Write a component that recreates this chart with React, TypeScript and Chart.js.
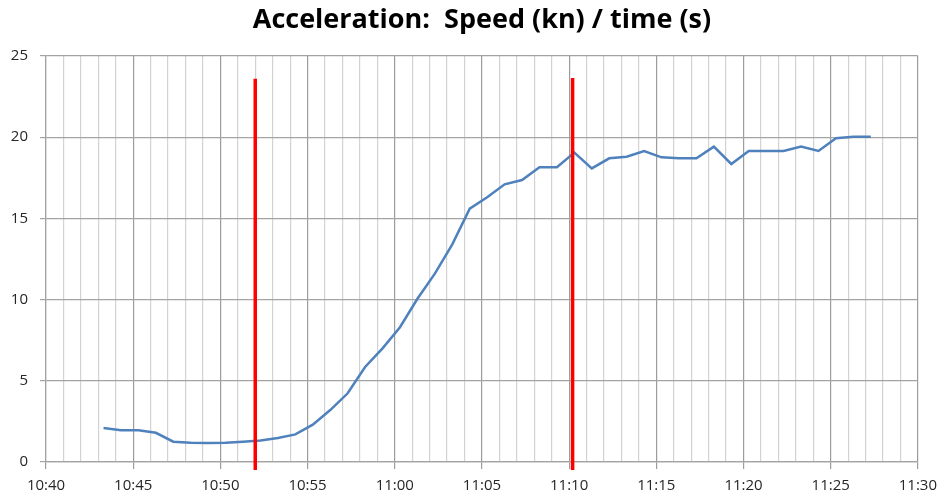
import React, { useEffect, useRef } from "react";
import { Chart, registerables } from "chart.js";

Chart.register(...registerables);

// time in minutes since midnight (10:43.3 -> 643.3)
const timeMinutes = [
  643.3, 644.3, 645.3, 646.3, 647.3, 648.3, 649.3, 650.3, 651.3, 652.3,
  653.3, 654.3, 655.3, 656.3, 657.3, 658.3, 659.3, 660.3, 661.3, 662.3,
  663.3, 664.3, 665.3, 666.3, 667.3, 668.3, 669.3, 670.3, 671.3, 672.3,
  673.3, 674.3, 675.3, 676.3, 677.3, 678.3, 679.3, 680.3, 681.3, 682.3,
  683.3, 684.3, 685.3, 686.3, 687.3,
];
const speedKn = [
  2.1, 1.95, 1.95, 1.8, 1.25, 1.18, 1.17, 1.18, 1.25, 1.33,
  1.48, 1.7, 2.3, 3.2, 4.23, 5.85, 7.0, 8.3, 10.05, 11.6,
  13.4, 15.6, 16.3, 17.1, 17.36, 18.15, 18.15, 19.05, 18.08, 18.7,
  18.8, 19.15, 18.76, 18.7, 18.7, 19.42, 18.35, 19.15, 19.15, 19.15,
  19.42, 19.15, 19.93, 20.03, 20.03,
];
// red marker lines: time, bottom, top
const markerTimes = [652.0, 670.2];
const markerBottom = [-0.5, -0.5];
const markerTop = [23.6, 23.65];

const xMin = 640;
const xMax = 690;
const yTicks = [0, 5, 10, 15, 20, 25];

const fmtTime = (v: number) => {
  const h = Math.floor(v / 60);
  const m = Math.round(v % 60);
  return `${h}:${m < 10 ? "0" + m : m}`;
};

export default function App() {
  const ref = useRef<HTMLCanvasElement | null>(null);
  useEffect(() => {
    if (!ref.current) return;
    const speedData = timeMinutes.map((t, i) => ({ x: t, y: speedKn[i] }));
    const markerSets = markerTimes.map((t, i) => ({
      label: "marker" + i,
      data: [
        { x: t, y: markerBottom[i] },
        { x: t, y: markerTop[i] },
      ],
      borderColor: "#ff0000",
      borderWidth: 3.5,
      pointRadius: 0,
      clip: false as any,
      order: 0,
    }));
    const chart = new Chart(ref.current, {
      type: "line",
      data: {
        datasets: [
          {
            label: "Speed",
            data: speedData,
            borderColor: "#4f81bd",
            borderWidth: 2.5,
            pointRadius: 0,
            tension: 0,
            order: 1,
          },
          ...markerSets,
        ],
      },
      options: {
        animation: false,
        responsive: false,
        layout: { padding: { left: 0, right: 24, top: 0, bottom: 0 } },
        plugins: {
          legend: { display: false },
          tooltip: { enabled: false },
          title: {
            display: true,
            text: "Acceleration:  Speed (kn) / time (s)",
            fullSize: false,
            color: "#000000",
            font: { family: "Open Sans", size: 27, weight: "bold" },
            padding: { top: 4, bottom: 19.6 },
          },
        },
        scales: {
          x: {
            type: "linear",
            min: xMin,
            max: xMax,
            afterFit: (s: any) => {
              s.height = 35;
            },
            afterBuildTicks: (s: any) => {
              const t = [];
              for (let v = xMin; v <= xMax; v++) t.push({ value: v });
              s.ticks = t;
            },
            ticks: {
              autoSkip: false,
              maxRotation: 0,
              padding: 8,
              color: "#262626",
              font: { family: "Open Sans", size: 15 },
              callback: (v: any) => (Number(v) % 5 === 0 ? fmtTime(Number(v)) : ""),
            },
            grid: {
              color: (c: any) => (c.tick && c.tick.value % 5 === 0 ? "#9c9c9c" : "#d2d2d2"),
              tickColor: (c: any) => (c.tick && c.tick.value % 5 === 0 ? "#9c9c9c" : "rgba(0,0,0,0)"),
              tickLength: 7,
              lineWidth: 1.2,
            },
            border: { color: "#a3a3a3", width: 1.2 },
          },
          y: {
            type: "linear",
            min: 0,
            max: 25,
            afterFit: (s: any) => {
              s.width = 46;
            },
            afterBuildTicks: (s: any) => {
              s.ticks = yTicks.map((v) => ({ value: v }));
            },
            ticks: {
              padding: 12,
              color: "#262626",
              font: { family: "Open Sans", size: 15 },
            },
            grid: {
              color: "#a3a3a3",
              tickLength: 6,
              lineWidth: 1.2,
            },
            border: { color: "#a3a3a3", width: 1.2 },
          },
        },
      },
    });
    return () => chart.destroy();
  }, []);
  return (
    <div style={{ position: "fixed", left: 0, top: 0, width: 945, height: 497, background: "#ffffff" }}>
      <canvas ref={ref} width={945} height={497} style={{ width: 945, height: 497 }} />
    </div>
  );
}
